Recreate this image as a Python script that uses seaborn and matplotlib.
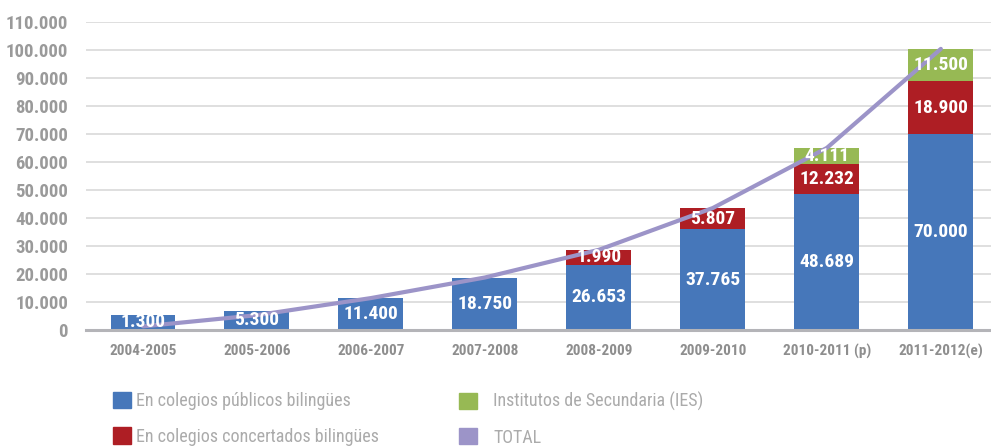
import numpy as np
import pandas as pd
import matplotlib
matplotlib.use("Agg")
import matplotlib.pyplot as plt
import seaborn as sns
from matplotlib.patches import Patch
from matplotlib.ticker import FuncFormatter

sns.set_theme(style="white")
plt.rcParams['font.family'] = ['Roboto Condensed', 'DejaVu Sans']

# cursos escolares
cursos = ['2004-2005', '2005-2006', '2006-2007', '2007-2008',
          '2008-2009', '2009-2010', '2010-2011 (p)', '2011-2012(e)']

# numeros rotulados en las barras
publicos = [1300, 5300, 11400, 18750, 26653, 37765, 48689, 70000]
concertados = [0, 0, 0, 0, 1990, 5807, 12232, 18900]
ies = [0, 0, 0, 0, 0, 0, 4111, 11500]
total = [1300, 5300, 11400, 18750, 28643, 43572, 65032, 100400]

# altura dibujada de cada tramo
alto_publicos = [5400, 6800, 11400, 18750, 23300, 36000, 48689, 70000]
alto_concertados = [0, 0, 0, 0, 5300, 7500, 10600, 18900]
alto_ies = [0, 0, 0, 0, 0, 0, 5700, 11500]

c_pub = '#4677ba'
c_con = '#ae1e24'
c_ies = '#97b954'
c_tot = '#9c94c8'

df = pd.DataFrame({'curso': cursos, 'pub': alto_publicos,
                   'con': alto_concertados, 'ies': alto_ies})
base_ies = [a + b for a, b in zip(alto_publicos, alto_concertados)]

fig = plt.figure(figsize=(9.91, 4.46), dpi=100)
ax = fig.add_axes([86/991, 1-330/446, 1-86/991, 308/446])

w = 0.57
bar_kw = dict(width=w, saturation=1, ax=ax, zorder=2, linewidth=0, edgecolor='none')
sns.barplot(data=df, x='curso', y='pub', color=c_pub, **bar_kw)
sns.barplot(data=df, x='curso', y='con', color=c_con, bottom=alto_publicos, **bar_kw)
sns.barplot(data=df, x='curso', y='ies', color=c_ies, bottom=base_ies, **bar_kw)

sns.lineplot(x=np.arange(len(cursos)), y=total, color=c_tot, lw=3.0, sort=False,
             estimator=None, ax=ax, zorder=3, solid_capstyle='round')

def fmt(v):
    return f"{v:,.0f}".replace(',', '.')

for i in range(len(cursos)):
    segs = [(alto_publicos[i], 0, publicos[i]),
            (alto_concertados[i], alto_publicos[i], concertados[i]),
            (alto_ies[i], base_ies[i], ies[i])]
    for h, b, v in segs:
        if v > 0:
            ax.text(i, b + h/2, fmt(v), ha='center', va='center', color='white',
                    fontsize=14, fontweight='bold', zorder=4)

ax.set_xlim(-0.5, 7.44)
ax.set_ylim(0, 110000)
ax.set_yticks(np.arange(0, 110001, 10000))
ax.yaxis.set_major_formatter(FuncFormatter(lambda v, p: fmt(v)))
ax.grid(axis='y', color='#d6d6d6', lw=1.1, zorder=0)
ax.set_axisbelow(True)
for s in ['top', 'right', 'left']:
    ax.spines[s].set_visible(False)
ax.spines['bottom'].set_color('#b4b4b8')
ax.spines['bottom'].set_linewidth(2.2)
ax.spines['bottom'].set_zorder(5)
ax.tick_params(axis='y', length=0, pad=13, labelsize=13.5, labelcolor='#9a9a9a')
ax.tick_params(axis='x', length=0, pad=10, labelsize=11, labelcolor='#8e8e8e')
for t in ax.get_yticklabels() + ax.get_xticklabels():
    t.set_fontweight('bold')
ax.set_xlabel('')
ax.set_ylabel('')

leg_kw = dict(frameon=False, fontsize=13, labelcolor='#ababab', handlelength=1.0,
              handleheight=1.0, labelspacing=0.95, borderpad=0, borderaxespad=0)
l1 = fig.legend(handles=[Patch(color=c_pub, label='En colegios públicos bilingües'),
                         Patch(color=c_con, label='En colegios concertados bilingües')],
                loc='upper left', bbox_to_anchor=(113/991, 1-392/446),
                handletextpad=0.3, **leg_kw)
l2 = fig.legend(handles=[Patch(color=c_ies, label='Institutos de Secundaria (IES)'),
                         Patch(color=c_tot, label='TOTAL')],
                loc='upper left', bbox_to_anchor=(459/991, 1-392/446),
                handletextpad=0.9, **leg_kw)

fig.savefig('out.png', dpi=100)
